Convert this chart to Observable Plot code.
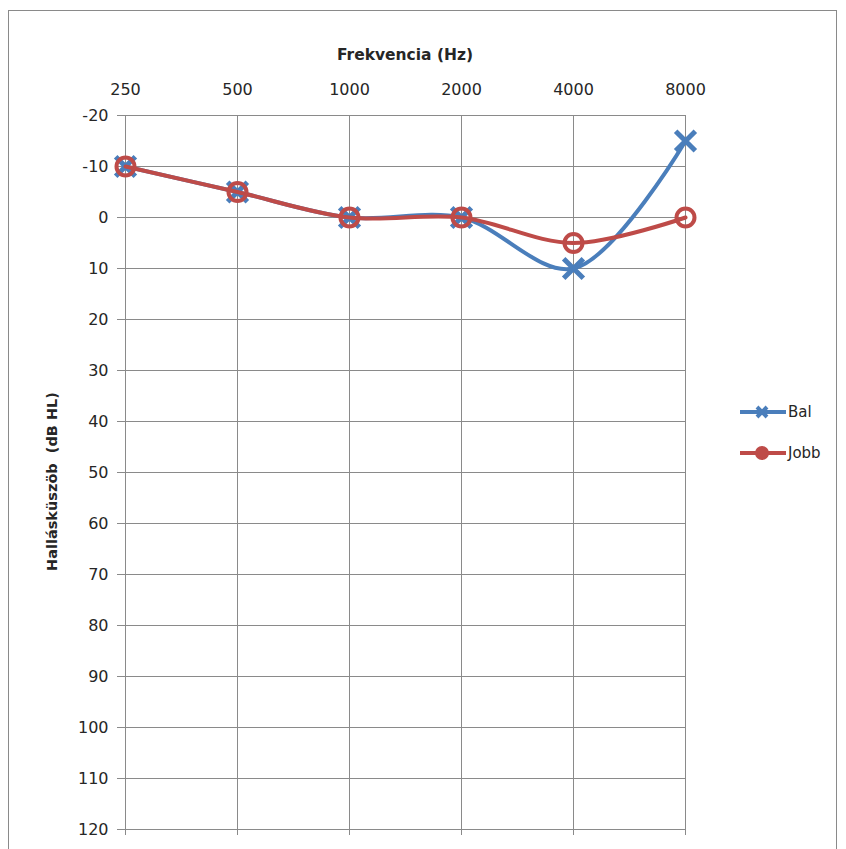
<!DOCTYPE html>
<html>
<head>
<meta charset="utf-8">
<script src="https://cdn.jsdelivr.net/npm/d3@7"></script>
<script src="https://cdn.jsdelivr.net/npm/@observablehq/plot@0.6"></script>
<style>
  html, body { margin: 0; padding: 0; background: #fff; }
  #wrap { position: relative; width: 846px; height: 849px; overflow: hidden; font-family: "DejaVu Sans", sans-serif; }
  #frame { position: absolute; left: 8px; top: 10px; width: 829px; height: 880px; border: 1px solid #8a8a8a; box-sizing: border-box; }
  #chart { position: absolute; left: 0; top: 0; }
  #legend { position: absolute; left: 738px; top: 400px; font-size: 15px; color: #262626; }
  .item { display: flex; align-items: center; height: 24px; margin-bottom: 17px; }
  .item span { margin-left: 0px; }
</style>
</head>
<body>
<div id="wrap">
  <div id="frame"></div>
  <div id="chart"></div>
  <div id="legend"></div>
</div>
<script>
const freqs = ["250", "500", "1000", "2000", "4000", "8000"];
const bal = [-10, -5, 0, 0, 10, -15];
const jobb = [-10, -5, 0, 0, 5, 0];
const yTicks = [-20, -10, 0, 10, 20, 30, 40, 50, 60, 70, 80, 90, 100, 110, 120];
const seriesNames = ["Bal", "Jobb"];
const colors = { Bal: "#4A7EBB", Jobb: "#BE4B48" };

const balData = freqs.map((f, i) => ({ f, v: bal[i] }));
const jobbData = freqs.map((f, i) => ({ f, v: jobb[i] }));
const grid = "#8a8a8a";

const chart = Plot.plot({
  width: 846,
  height: 849,
  marginLeft: 124,
  marginRight: 161,
  marginTop: 115,
  marginBottom: 20,
  style: { fontFamily: "'DejaVu Sans', sans-serif", fontSize: "16px", color: "#262626", background: "transparent" },
  x: { type: "point", domain: freqs, padding: 0 },
  y: { domain: [-20, 120], reverse: true, ticks: yTicks },
  marks: [
    Plot.gridY(yTicks, { stroke: grid, strokeOpacity: 1, strokeWidth: 1 }),
    Plot.gridX(freqs, { stroke: grid, strokeOpacity: 1, strokeWidth: 1 }),
    Plot.axisY(yTicks, { tickSize: 7, tickPadding: 9, stroke: grid, label: null, fontSize: 16, tickFormat: d => String(d) }),
    Plot.axisX({ anchor: "top", tickSize: 0, tickPadding: 21, label: null, fontSize: 16 }),
    Plot.axisX({ anchor: "bottom", tickSize: 6, stroke: grid, tickFormat: () => "", label: null }),
    Plot.text(["Frekvencia (Hz)"], { frameAnchor: "top", dy: -60, fontWeight: "bold", fontSize: 15.5, textAnchor: "middle", lineAnchor: "middle" }),
    Plot.text(["Hallásküszöb  (dB HL)"], { frameAnchor: "left", dx: -72, dy: 9, rotate: -90, fontWeight: "bold", fontSize: 14.5, textAnchor: "middle", lineAnchor: "middle" }),
    Plot.line(balData, { x: "f", y: "v", stroke: colors.Bal, strokeWidth: 4, curve: "catmull-rom" }),
    Plot.dot(balData, { x: "f", y: "v", symbol: "times", r: 9, stroke: colors.Bal, strokeWidth: 5 }),
    Plot.line(jobbData, { x: "f", y: "v", stroke: colors.Jobb, strokeWidth: 4, curve: "catmull-rom" }),
    Plot.dot(jobbData, { x: "f", y: "v", symbol: "circle", r: 9, stroke: colors.Jobb, strokeWidth: 4, fill: "none" })
  ]
});
document.getElementById("chart").appendChild(chart);

// Legend
const legend = document.getElementById("legend");
seriesNames.forEach(name => {
  const c = colors[name];
  const marker = name === "Bal"
    ? `<path d="M19,6 L29,16 M29,6 L19,16" stroke="${c}" stroke-width="4"/>`
    : `<circle cx="24" cy="11" r="6" fill="${c}" stroke="${c}" stroke-width="2"/>`;
  legend.insertAdjacentHTML("beforeend",
    `<div class="item"><svg width="50" height="22"><line x1="2" x2="48" y1="11" y2="11" stroke="${c}" stroke-width="4"/>${marker}</svg><span>${name}</span></div>`);
});
</script>
</body>
</html>
